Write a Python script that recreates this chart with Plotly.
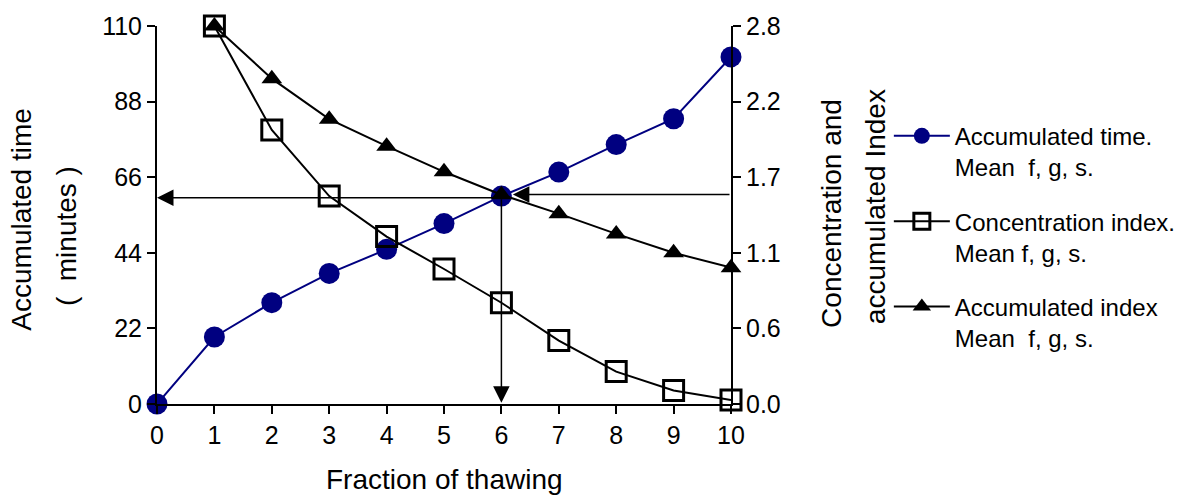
import plotly.graph_objects as go

# ---- data ----
fraction = [0, 1, 2, 3, 4, 5, 6, 7, 8, 9, 10]
acc_time = [0, 19.5, 29.5, 38, 45, 52.5, 60.5, 67.5, 75.5, 83, 101]

fraction_idx = [1, 2, 3, 4, 5, 6, 7, 8, 9, 10]
conc_index = [2.8, 2.03, 1.54, 1.24, 1.0, 0.75, 0.47, 0.24, 0.1, 0.03]
acc_index = [2.8, 2.41, 2.11, 1.91, 1.72, 1.55, 1.41, 1.26, 1.12, 1.01]

x_ticks = list(range(0, 11))
left_ticks = [0, 22, 44, 66, 88, 110]
right_tickvals = [0, 0.56, 1.12, 1.68, 2.24, 2.8]
right_ticktext = ["0.0", "0.6", "1.1", "1.7", "2.2", "2.8"]

# reading lines (fraction 6 -> time)
read_x = 6
read_time_left = 60
read_time_right = 61

FONT = "Arial, Liberation Sans, sans-serif"
NAVY = "#000080"

fig = go.Figure()

fig.add_trace(go.Scatter(
    x=fraction, y=acc_time, mode="lines+markers",
    name="Accumulated time.<br>Mean  f, g, s.",
    line=dict(color=NAVY, width=2),
    marker=dict(symbol="circle", size=21, color=NAVY),
    cliponaxis=False, legendgroup="a", yaxis="y"))

fig.add_trace(go.Scatter(
    x=fraction_idx, y=conc_index, mode="lines+markers",
    name="Concentration index.<br>Mean f, g, s.",
    line=dict(color="black", width=2),
    marker=dict(symbol="square-open", size=20, color="black",
                line=dict(width=3, color="black")),
    cliponaxis=False, legendgroup="b", yaxis="y2"))

fig.add_trace(go.Scatter(
    x=fraction_idx, y=acc_index, mode="lines+markers",
    name="Accumulated index<br>Mean  f, g, s.",
    line=dict(color="black", width=2),
    marker=dict(symbol="triangle-up", size=18, color="black"),
    cliponaxis=False, legendgroup="c", yaxis="y2"))

arrow_common = dict(showarrow=True, arrowhead=2, arrowsize=2.2, arrowwidth=1.5,
                    arrowcolor="black", axref="x", ayref="y", xref="x", yref="y",
                    text="", standoff=0)
annotations = [
    dict(x=0, y=read_time_left, ax=read_x, ay=read_time_left, **arrow_common),
    dict(x=read_x + 0.2, y=read_time_right, ax=10, ay=read_time_right, **arrow_common),
    dict(x=read_x, y=0.4, ax=read_x, ay=read_time_left, **arrow_common),
]

title_font = dict(family=FONT, size=28, color="black")
annotations += [
    dict(text="Accumulated time", x=-0.236, y=0.489, xref="paper", yref="paper",
         textangle=-90, showarrow=False, font=title_font, xanchor="center", yanchor="middle"),
    dict(text="(  minutes )", x=-0.158, y=0.445, xref="paper", yref="paper",
         textangle=-90, showarrow=False, font=title_font, xanchor="center", yanchor="middle"),
    dict(text="Concentration and", x=1.176, y=0.503, xref="paper", yref="paper",
         textangle=-90, showarrow=False, font=title_font, xanchor="center", yanchor="middle"),
    dict(text="accumulated Index", x=1.251, y=0.521, xref="paper", yref="paper",
         textangle=-90, showarrow=False, font=title_font, xanchor="center", yanchor="middle"),
    dict(text="Fraction of thawing", x=0.5, y=-0.2, xref="paper", yref="paper",
         showarrow=False, font=title_font, xanchor="center", yanchor="middle"),
]

axis_common = dict(showgrid=False, zeroline=False, showline=True, linecolor="black",
                   linewidth=2, ticks="outside", ticklen=8, tickwidth=2,
                   tickcolor="black", tickfont=dict(family=FONT, size=25, color="black"))

fig.update_layout(
    width=1200, height=501,
    margin=dict(l=157, r=469, t=24, b=97),
    paper_bgcolor="white", plot_bgcolor="white",
    xaxis=dict(range=[0, 10], tickvals=x_ticks, **axis_common),
    yaxis=dict(range=[0, 110], tickvals=left_ticks, **axis_common),
    yaxis2=dict(range=[0, 2.8], tickvals=right_tickvals, ticktext=right_ticktext,
                overlaying="y", side="right", **axis_common),
    legend=dict(x=1.275, y=0.768, xanchor="left", yanchor="top",
                font=dict(family=FONT, size=24, color="black"),
                valign="top", tracegroupgap=20, bgcolor="rgba(0,0,0,0)",
                itemwidth=56),
    annotations=annotations,
    showlegend=True,
)

fig.write_html("out.html", config={"displayModeBar": False},
               post_script="document.body.style.margin='0';")
